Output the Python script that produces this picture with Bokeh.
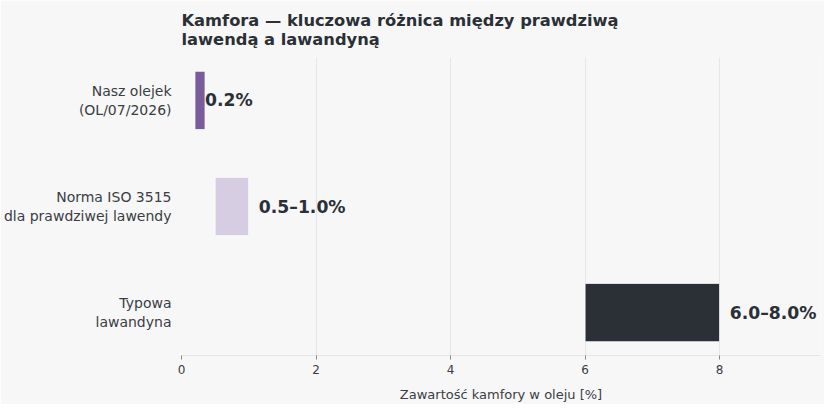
from bokeh.plotting import figure
from bokeh.models import ColumnDataSource, Range1d, FixedTicker
from bokeh.embed import file_html
from bokeh.resources import INLINE
from bokeh.core.properties import value

title_text = "Kamfora — kluczowa różnica między prawdziwą\nlawendą a lawandyną"
categories = ["Nasz olejek\n(OL/07/2026)", "Norma ISO 3515\ndla prawdziwej lawendy", "Typowa\nlawandyna"]
low = [0.2, 0.5, 6.0]
high = [0.2, 1.0, 8.0]
labels = ["0.2%", "0.5–1.0%", "6.0–8.0%"]
colors = ["#7a5c9a", "#d6cde2", "#2b2f36"]
x_ticks = [0, 2, 4, 6, 8]

MIN_W = 0.15
OFF = 0.15
ypos = list(range(len(categories)))
right = [max(h, l + MIN_W) for l, h in zip(low, high)]
label_x = [h + OFF for h in high]

src = ColumnDataSource(dict(y=ypos, left=low, right=right, color=colors,
                            lx=label_x, label=labels))

BG = "#f7f7f7"
FONT = "DejaVu Sans"

p = figure(width=824, height=404, output_backend="svg", toolbar_location=None,
           x_range=Range1d(0, 9.5), y_range=Range1d(2.405, -0.405),
           min_border_left=181, min_border_right=4, min_border_top=0, min_border_bottom=49,
           title=title_text)
p.background_fill_color = BG
p.border_fill_color = BG
p.outline_line_color = None

p.title.text_font = FONT
p.title.text_font_size = "16.3px"
p.title.text_font_style = "bold"
p.title.text_color = "#2b2f36"
p.title.text_line_height = 1.0
p.title.align = "left"
p.title.standoff = 17

p.hbar(y="y", left="left", right="right", height=0.55, fill_color="color",
       line_color="white", line_width=0.8, source=src)
p.text(x="lx", y="y", text="label", source=src, text_font=value(FONT),
       text_font_size="17.2px", text_font_style="bold", text_color="#2b2f36",
       text_baseline="middle", text_align="left")

p.xaxis.ticker = FixedTicker(ticks=x_ticks)
p.xaxis.axis_label = "Zawartość kamfory w oleju [%]"
p.xaxis.axis_label_text_font = FONT
p.xaxis.axis_label_text_font_size = "13px"
p.xaxis.axis_label_text_font_style = "normal"
p.xaxis.axis_label_text_color = "#3a3d44"
p.xaxis.axis_label_standoff = 10
p.xaxis.major_label_text_font = FONT
p.xaxis.major_label_text_font_size = "12px"
p.xaxis.major_label_text_color = "#3a3d44"
p.xaxis.axis_line_color = "#e2e4e8"
p.xaxis.major_tick_line_color = "#888888"
p.xaxis.major_tick_out = 4
p.xaxis.major_tick_in = 0
p.xaxis.minor_tick_line_color = None

p.yaxis.ticker = FixedTicker(ticks=ypos)
p.yaxis.major_label_overrides = {i: c for i, c in zip(ypos, categories)}
p.yaxis.major_label_text_font = FONT
p.yaxis.major_label_text_font_size = "14px"
p.yaxis.major_label_text_color = "#3a3d44"
p.yaxis.axis_line_color = None
p.yaxis.major_tick_line_color = None
p.yaxis.minor_tick_line_color = None
p.yaxis.major_tick_out = 0
p.yaxis.major_label_standoff = 10

p.xgrid.grid_line_color = "#e4e6ea"
p.ygrid.grid_line_color = None

open("out.html", "w").write(file_html(p, INLINE))
